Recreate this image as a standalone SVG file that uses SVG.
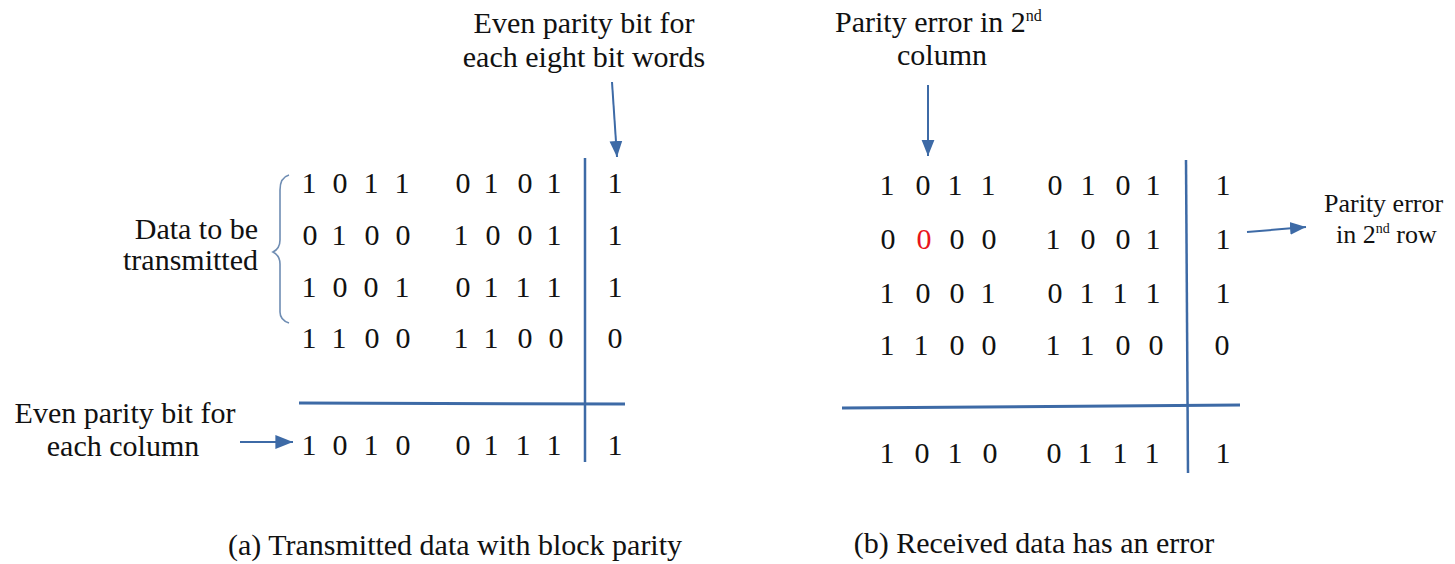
<svg xmlns="http://www.w3.org/2000/svg" width="1455" height="564" viewBox="0 0 1455 564" font-family="'Liberation Serif', 'DejaVu Serif', serif">
<style>
text{font-family:'Liberation Serif','DejaVu Serif',serif}
.lbl{font-size:30px;fill:#111}
.sm{font-size:26px}
.d{font-size:30px;fill:#111;text-anchor:middle}
.red{fill:#e8141c}
.ln{stroke:#3d6aa6;fill:none}
.brace{stroke:#6f8db3;fill:none;stroke-width:1.6}
</style>
<defs>
<marker id="ah" viewBox="0 0 10 10" refX="10" refY="5" markerWidth="8" markerHeight="8" markerUnits="strokeWidth" orient="auto">
<path d="M0,1 L10,5 L0,9 z" fill="#3d6aa6"/>
</marker>
</defs>
<rect width="1455" height="564" fill="#fff"/>

<g id="panel-a">
<g id="a-top-label"><text class="lbl" x="584" y="33" text-anchor="middle">Even parity bit for</text><text class="lbl" x="584" y="67" text-anchor="middle">each eight bit words</text></g>
<g id="a-data-label"><text class="lbl" x="258" y="239" text-anchor="end">Data to be</text><text class="lbl" x="258" y="270" text-anchor="end">transmitted</text></g>
<g id="a-col-label"><text class="lbl" x="125" y="423" text-anchor="middle">Even parity bit for</text><text class="lbl" x="123" y="456" text-anchor="middle">each column</text></g>
<g id="a-caption"><text class="lbl" x="455" y="555" text-anchor="middle">(a) Transmitted data with block parity</text></g>
<g id="a-grid">
<line class="ln" x1="585" y1="158" x2="585" y2="462" stroke-width="2.5"/>
<line class="ln" x1="299" y1="403" x2="625" y2="404" stroke-width="3"/>
<path class="brace" d="M289,175 C282,177 280,182 280,190 L280,240 C280,247 277,250 273,252 C277,254 280,257 280,264 L280,312 C280,318 283,321 289,323"/>
</g>
<g id="a-rows">
<text class="d" y="193"><tspan x="309">1</tspan><tspan x="340">0</tspan><tspan x="371">1</tspan><tspan x="402">1</tspan><tspan x="463">0</tspan><tspan x="491">1</tspan><tspan x="525">0</tspan><tspan x="554">1</tspan><tspan x="615">1</tspan></text>
<text class="d" y="245"><tspan x="310">0</tspan><tspan x="339">1</tspan><tspan x="372">0</tspan><tspan x="403">0</tspan><tspan x="461">1</tspan><tspan x="493">0</tspan><tspan x="525">0</tspan><tspan x="554">1</tspan><tspan x="615">1</tspan></text>
<text class="d" y="297"><tspan x="309">1</tspan><tspan x="340">0</tspan><tspan x="371">0</tspan><tspan x="402">1</tspan><tspan x="463">0</tspan><tspan x="491">1</tspan><tspan x="523">1</tspan><tspan x="554">1</tspan><tspan x="615">1</tspan></text>
<text class="d" y="348"><tspan x="309">1</tspan><tspan x="339">1</tspan><tspan x="372">0</tspan><tspan x="403">0</tspan><tspan x="461">1</tspan><tspan x="491">1</tspan><tspan x="525">0</tspan><tspan x="556">0</tspan><tspan x="615">0</tspan></text>
<text class="d" y="455"><tspan x="309">1</tspan><tspan x="340">0</tspan><tspan x="371">1</tspan><tspan x="403">0</tspan><tspan x="463">0</tspan><tspan x="491">1</tspan><tspan x="523">1</tspan><tspan x="554">1</tspan><tspan x="615">1</tspan></text>
</g>
</g>

<g id="panel-b">
<g id="b-top-label"><text class="lbl" x="835" y="32">Parity error in 2<tspan dy="-11" font-size="16">nd</tspan></text><text class="lbl" x="942" y="65" text-anchor="middle">column</text></g>
<g id="b-row-label"><text class="lbl sm" x="1324" y="212">Parity error</text><text class="lbl sm" x="1336" y="243">in 2<tspan dy="-10" font-size="14">nd</tspan><tspan dy="10"> row</tspan></text></g>
<g id="b-caption"><text class="lbl" x="1034" y="553" text-anchor="middle">(b) Received data has an error</text></g>
<g id="b-grid">
<line class="ln" x1="1186" y1="160" x2="1188" y2="473" stroke-width="2.5"/>
<line class="ln" x1="842" y1="408" x2="1240" y2="405" stroke-width="3"/>
</g>
<g id="b-rows">
<text class="d" y="195"><tspan x="887">1</tspan><tspan x="923">0</tspan><tspan x="955">1</tspan><tspan x="988">1</tspan><tspan x="1055">0</tspan><tspan x="1088">1</tspan><tspan x="1123">0</tspan><tspan x="1153">1</tspan><tspan x="1223">1</tspan></text>
<text class="d" y="249"><tspan x="888">0</tspan><tspan x="924" class="red">0</tspan><tspan x="957">0</tspan><tspan x="989">0</tspan><tspan x="1053">1</tspan><tspan x="1088">0</tspan><tspan x="1123">0</tspan><tspan x="1153">1</tspan><tspan x="1223">1</tspan></text>
<text class="d" y="303"><tspan x="887">1</tspan><tspan x="923">0</tspan><tspan x="957">0</tspan><tspan x="988">1</tspan><tspan x="1055">0</tspan><tspan x="1087">1</tspan><tspan x="1120">1</tspan><tspan x="1153">1</tspan><tspan x="1223">1</tspan></text>
<text class="d" y="355"><tspan x="887">1</tspan><tspan x="921">1</tspan><tspan x="957">0</tspan><tspan x="989">0</tspan><tspan x="1053">1</tspan><tspan x="1087">1</tspan><tspan x="1123">0</tspan><tspan x="1156">0</tspan><tspan x="1222">0</tspan></text>
<text class="d" y="463"><tspan x="887">1</tspan><tspan x="922">0</tspan><tspan x="955">1</tspan><tspan x="990">0</tspan><tspan x="1054">0</tspan><tspan x="1085">1</tspan><tspan x="1120">1</tspan><tspan x="1152">1</tspan><tspan x="1223">1</tspan></text>
</g>
</g>

<g id="connectors">
<line class="ln" x1="612" y1="82" x2="617" y2="157" stroke-width="2" marker-end="url(#ah)"/>
<line class="ln" x1="240" y1="442" x2="293" y2="442" stroke-width="2.2" marker-end="url(#ah)"/>
<line class="ln" x1="928" y1="85" x2="928" y2="156" stroke-width="2" marker-end="url(#ah)"/>
<line class="ln" x1="1247" y1="232" x2="1306" y2="227" stroke-width="2" marker-end="url(#ah)"/>
</g>
</svg>
